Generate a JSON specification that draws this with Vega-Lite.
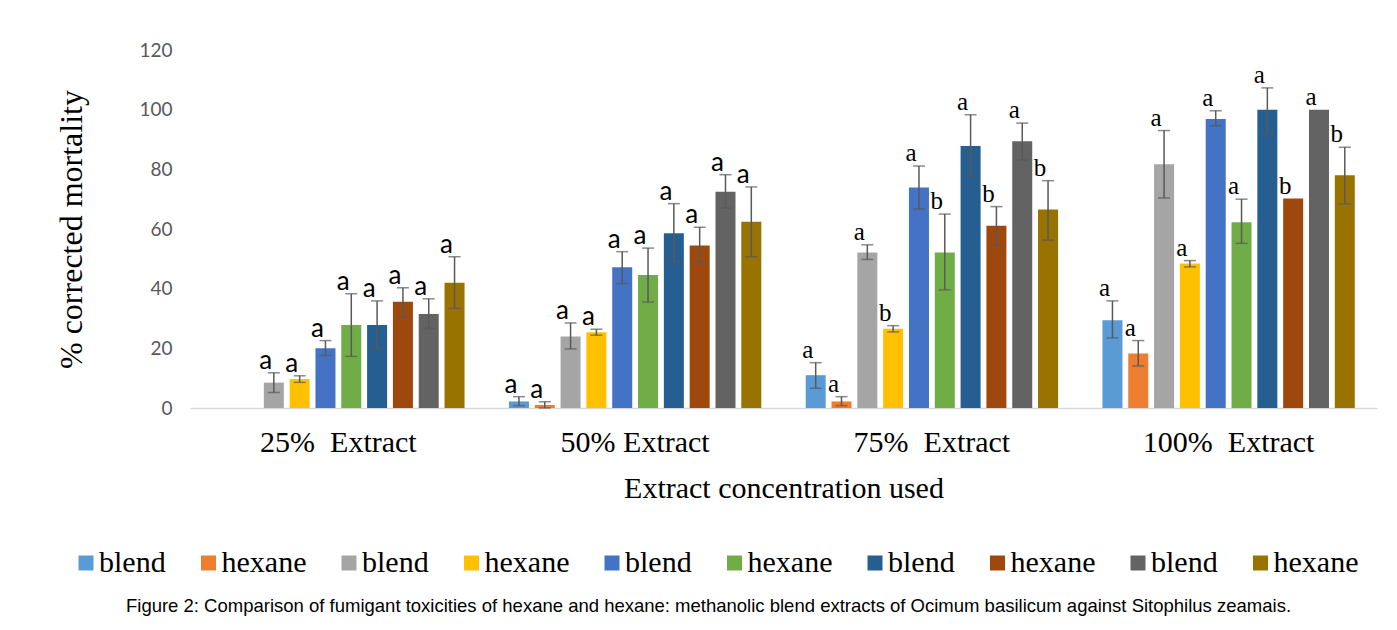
{
  "$schema": "https://vega.github.io/schema/vega-lite/v6.json",
  "width": 1187,
  "height": 358,
  "autosize": {"type": "none"},
  "padding": {"left": 190, "top": 50, "right": 20, "bottom": 222},
  "background": "white",
  "config": {"view": {"stroke": null}},
  "title": {
    "text": "Figure 2: Comparison of fumigant toxicities of hexane and hexane: methanolic blend extracts of Ocimum basilicum against Sitophilus zeamais.",
    "orient": "bottom",
    "anchor": "middle",
    "frame": "group",
    "font": "Liberation Sans",
    "fontSize": 18.5,
    "fontWeight": "normal",
    "color": "black",
    "offset": 19,
    "dx": -75
  },
  "data": {
    "values": [
      {"group": "25%\u00a0 Extract", "series": "blend 1", "value": 0},
      {"group": "25%\u00a0 Extract", "series": "hexane 2", "value": 0},
      {"group": "25%\u00a0 Extract", "series": "blend 3", "value": 8.5, "lo": 5.2, "hi": 11.8, "letter": "a"},
      {"group": "25%\u00a0 Extract", "series": "hexane 4", "value": 9.7, "lo": 8.6, "hi": 10.8, "letter": "a"},
      {"group": "25%\u00a0 Extract", "series": "blend 5", "value": 20.0, "lo": 17.6, "hi": 22.6, "letter": "a"},
      {"group": "25%\u00a0 Extract", "series": "hexane 6", "value": 27.8, "lo": 17.3, "hi": 38.3, "letter": "a"},
      {"group": "25%\u00a0 Extract", "series": "blend 7", "value": 27.8, "lo": 19.8, "hi": 35.9, "letter": "a"},
      {"group": "25%\u00a0 Extract", "series": "hexane 8", "value": 35.6, "lo": 30.6, "hi": 40.3, "letter": "a"},
      {"group": "25%\u00a0 Extract", "series": "blend 9", "value": 31.5, "lo": 26.7, "hi": 36.6, "letter": "a"},
      {"group": "25%\u00a0 Extract", "series": "hexane 10", "value": 42.0, "lo": 33.4, "hi": 50.7, "letter": "a"},
      {"group": "50% Extract", "series": "blend 1", "value": 2.2, "lo": 0.8, "hi": 3.8, "letter": "a"},
      {"group": "50% Extract", "series": "hexane 2", "value": 1.0, "lo": 0, "hi": 2.1, "letter": "a"},
      {"group": "50% Extract", "series": "blend 3", "value": 24.0, "lo": 19.8, "hi": 28.5, "letter": "a"},
      {"group": "50% Extract", "series": "hexane 4", "value": 25.4, "lo": 24.4, "hi": 26.4, "letter": "a"},
      {"group": "50% Extract", "series": "blend 5", "value": 47.2, "lo": 41.7, "hi": 52.4, "letter": "a"},
      {"group": "50% Extract", "series": "hexane 6", "value": 44.6, "lo": 35.5, "hi": 53.6, "letter": "a"},
      {"group": "50% Extract", "series": "blend 7", "value": 58.6, "lo": 48.9, "hi": 68.5, "letter": "a"},
      {"group": "50% Extract", "series": "hexane 8", "value": 54.5, "lo": 48.9, "hi": 60.6, "letter": "a"},
      {"group": "50% Extract", "series": "blend 9", "value": 72.5, "lo": 67.0, "hi": 78.2, "letter": "a"},
      {"group": "50% Extract", "series": "hexane 10", "value": 62.4, "lo": 50.7, "hi": 74.1, "letter": "a"},
      {"group": "75%\u00a0 Extract", "series": "blend 1", "value": 11.0, "lo": 6.6, "hi": 15.2, "letter": "a"},
      {"group": "75%\u00a0 Extract", "series": "hexane 2", "value": 2.2, "lo": 0.8, "hi": 3.8, "letter": "a"},
      {"group": "75%\u00a0 Extract", "series": "blend 3", "value": 52.1, "lo": 49.8, "hi": 54.7, "letter": "a"},
      {"group": "75%\u00a0 Extract", "series": "hexane 4", "value": 26.6, "lo": 25.5, "hi": 27.6, "letter": "b"},
      {"group": "75%\u00a0 Extract", "series": "blend 5", "value": 73.9, "lo": 66.7, "hi": 81.1, "letter": "a"},
      {"group": "75%\u00a0 Extract", "series": "hexane 6", "value": 52.1, "lo": 39.6, "hi": 65.0, "letter": "b"},
      {"group": "75%\u00a0 Extract", "series": "blend 7", "value": 87.8, "lo": 77.8, "hi": 98.3, "letter": "a"},
      {"group": "75%\u00a0 Extract", "series": "hexane 8", "value": 61.1, "lo": 54.7, "hi": 67.5, "letter": "b"},
      {"group": "75%\u00a0 Extract", "series": "blend 9", "value": 89.4, "lo": 83.1, "hi": 95.5, "letter": "a"},
      {"group": "75%\u00a0 Extract", "series": "hexane 10", "value": 66.5, "lo": 56.3, "hi": 76.2, "letter": "b"},
      {"group": "100%\u00a0 Extract", "series": "blend 1", "value": 29.4, "lo": 23.5, "hi": 35.9, "letter": "a"},
      {"group": "100%\u00a0 Extract", "series": "hexane 2", "value": 18.3, "lo": 14.1, "hi": 22.6, "letter": "a"},
      {"group": "100%\u00a0 Extract", "series": "blend 3", "value": 81.7, "lo": 70.4, "hi": 93.0, "letter": "a"},
      {"group": "100%\u00a0 Extract", "series": "hexane 4", "value": 48.4, "lo": 47.3, "hi": 49.4, "letter": "a"},
      {"group": "100%\u00a0 Extract", "series": "blend 5", "value": 96.9, "lo": 94.6, "hi": 99.6, "letter": "a"},
      {"group": "100%\u00a0 Extract", "series": "hexane 6", "value": 62.3, "lo": 55.2, "hi": 70.0, "letter": "a"},
      {"group": "100%\u00a0 Extract", "series": "blend 7", "value": 100.0, "lo": 91.8, "hi": 107.3, "letter": "a"},
      {"group": "100%\u00a0 Extract", "series": "hexane 8", "value": 70.2, "letter": "b"},
      {"group": "100%\u00a0 Extract", "series": "blend 9", "value": 100.0, "letter": "a"},
      {"group": "100%\u00a0 Extract", "series": "hexane 10", "value": 78.0, "lo": 68.4, "hi": 87.4, "letter": "b"}
    ]
  },
  "encoding": {
    "x": {
      "field": "group",
      "type": "nominal",
      "sort": null,
      "scale": {"paddingInner": 0.13, "paddingOuter": 0.065},
      "axis": {
        "title": "Extract concentration used",
        "titleFont": "Liberation Serif",
        "titleFontSize": 30,
        "titleFontWeight": "normal",
        "titleColor": "black",
        "titlePadding": 16,
        "labelFont": "Liberation Serif",
        "labelFontSize": 30,
        "labelColor": "black",
        "labelAngle": 0,
        "labelPadding": 19,
        "ticks": false,
        "domainColor": "#d9d9d9",
        "domainWidth": 1.5
      }
    },
    "xOffset": {
      "field": "series",
      "type": "nominal",
      "sort": null,
      "scale": {"paddingInner": 0.225, "paddingOuter": 0.1125}
    }
  },
  "layer": [
    {
      "mark": {"type": "bar"},
      "encoding": {
        "y": {
          "field": "value",
          "type": "quantitative",
          "scale": {"domain": [0, 120]},
          "axis": {
            "title": "% corrected mortality",
            "titleFont": "Liberation Serif",
            "titleFontSize": 32,
            "titleFontWeight": "normal",
            "titleColor": "black",
            "titlePadding": 50,
            "labelFont": "Lato",
            "labelFontSize": 19,
            "labelColor": "#595959",
            "labelPadding": 18,
            "values": [0, 20, 40, 60, 80, 100, 120],
            "domain": false,
            "ticks": false,
            "grid": false
          }
        },
        "color": {
          "field": "series",
          "type": "nominal",
          "sort": null,
          "scale": {
            "domain": ["blend 1", "hexane 2", "blend 3", "hexane 4", "blend 5", "hexane 6", "blend 7", "hexane 8", "blend 9", "hexane 10"],
            "range": ["#5B9BD5", "#ED7D31", "#A5A5A5", "#FFC000", "#4472C4", "#70AD47", "#255E91", "#9E480E", "#636363", "#997300"]
          },
          "legend": {
            "title": null,
            "orient": "none",
            "legendX": -119,
            "legendY": 498,
            "direction": "horizontal",
            "symbolType": "square",
            "symbolSize": 225,
            "symbolStrokeWidth": 0,
            "labelFont": "Liberation Serif",
            "labelFontSize": 30,
            "labelColor": "black",
            "labelLimit": 300,
            "labelOffset": -2,
            "columnPadding": 27.5,
            "labelExpr": "split(datum.value, ' ')[0]"
          }
        }
      }
    },
    {
      "transform": [{"filter": "isValid(datum.lo)"}],
      "mark": {"type": "rule", "color": "#595959", "strokeWidth": 1.5},
      "encoding": {
        "y": {"field": "lo", "type": "quantitative"},
        "y2": {"field": "hi"}
      }
    },
    {
      "transform": [{"filter": "isValid(datum.lo)"}],
      "mark": {"type": "tick", "color": "#595959", "orient": "horizontal", "size": 12, "thickness": 1.5},
      "encoding": {"y": {"field": "lo", "type": "quantitative"}}
    },
    {
      "transform": [{"filter": "isValid(datum.lo)"}],
      "mark": {"type": "tick", "color": "#595959", "orient": "horizontal", "size": 12, "thickness": 1.5},
      "encoding": {"y": {"field": "hi", "type": "quantitative"}}
    },
    {
      "transform": [
        {"filter": "isValid(datum.letter) && (datum.group == '25%\u00a0 Extract' || datum.group == '50% Extract')"},
        {"calculate": "isValid(datum.hi) ? datum.hi : datum.value", "as": "anchor"}
      ],
      "mark": {"type": "text", "font": "Lato", "fontSize": 26, "color": "black", "baseline": "bottom", "dx": -8, "dy": 1},
      "encoding": {
        "y": {"field": "anchor", "type": "quantitative"},
        "text": {"field": "letter"}
      }
    },
    {
      "transform": [
        {"filter": "isValid(datum.letter) && !(datum.group == '25%\u00a0 Extract' || datum.group == '50% Extract')"},
        {"calculate": "isValid(datum.hi) ? datum.hi : datum.value", "as": "anchor"}
      ],
      "mark": {"type": "text", "font": "Liberation Serif", "fontSize": 25, "color": "black", "baseline": "bottom", "dx": -8, "dy": 0},
      "encoding": {
        "y": {"field": "anchor", "type": "quantitative"},
        "text": {"field": "letter"}
      }
    }
  ]
}
